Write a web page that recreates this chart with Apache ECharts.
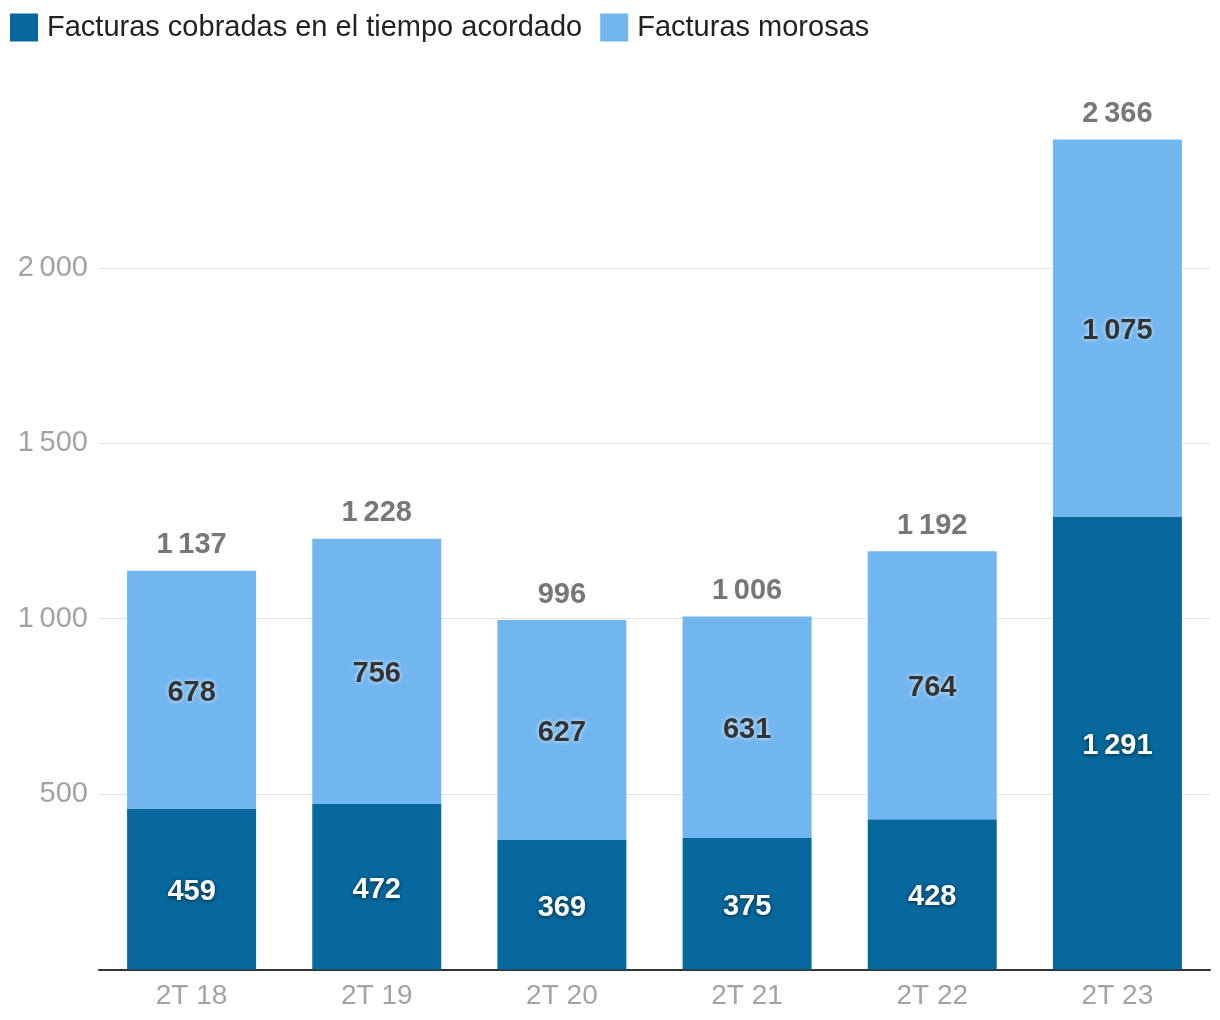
<!DOCTYPE html>
<html>
<head>
<meta charset="utf-8">
<script src="https://cdn.jsdelivr.net/npm/echarts@6/dist/echarts.min.js"></script>
<style>
html,body{margin:0;padding:0;background:#fff;}
#chart{width:1220px;height:1020px;}
</style>
</head>
<body>
<div id="chart"></div>
<script>
const categories = ['2T 18', '2T 19', '2T 20', '2T 21', '2T 22', '2T 23'];
const cobradas = [459, 472, 369, 375, 428, 1291];
const morosas = [678, 756, 627, 631, 764, 1075];
const seriesNames = ['Facturas cobradas en el tiempo acordado', 'Facturas morosas'];
const yTicks = [0, 500, 1000, 1500, 2000, 2500];

const totals = cobradas.map((v, i) => v + morosas[i]);
const fmt = v => String(v).replace(/\B(?=(\d{3})+(?!\d))/g, '\u2009');
const FONT = '"Liberation Sans", Arial, sans-serif';

const chart = echarts.init(document.getElementById('chart'), null, {renderer: 'canvas'});
chart.setOption({
  animation: false,
  backgroundColor: '#ffffff',
  legend: {
    left: 10, top: 13, padding: 0,
    itemWidth: 28, itemHeight: 28, itemGap: 18,
    icon: 'rect',
    data: seriesNames,
    textStyle: {fontFamily: FONT, fontSize: 29, color: '#222', padding: [0, 0, 0, 4]}
  },
  grid: {left: 99, right: 10, top: 92.5, bottom: 50.5, containLabel: false},
  xAxis: {
    type: 'category',
    data: categories,
    axisTick: {show: false},
    axisLine: {lineStyle: {color: '#333', width: 2}},
    axisLabel: {color: '#a3a3a3', fontFamily: FONT, fontSize: 28, margin: 13}
  },
  yAxis: {
    type: 'value',
    min: yTicks[0], max: yTicks[yTicks.length - 1], interval: 500,
    axisLine: {show: false},
    axisTick: {show: false},
    axisLabel: {
      color: '#a3a3a3', fontFamily: FONT, fontSize: 29, margin: 11,
      showMinLabel: false, showMaxLabel: false,
      formatter: v => fmt(v)
    },
    splitLine: {lineStyle: {color: '#e3e3e3', width: 1}, showMaxLine: false, showMinLine: false}
  },
  series: [
    {
      name: seriesNames[0], type: 'bar', stack: 'a', barWidth: 129,
      data: cobradas,
      itemStyle: {color: '#06689c'},
      label: {
        show: true, position: 'inside', offset: [0, 3], formatter: p => fmt(p.value),
        color: '#ffffff', fontFamily: FONT, fontWeight: 'bold', fontSize: 29,
        textShadowColor: 'rgba(0,0,0,0.6)', textShadowBlur: 4, textShadowOffsetY: 1
      }
    },
    {
      name: seriesNames[1], type: 'bar', stack: 'a', barWidth: 129,
      data: morosas,
      itemStyle: {color: '#72b6ef'},
      label: {
        show: true, position: 'inside', offset: [0, 3], formatter: p => fmt(p.value),
        color: '#333333', fontFamily: FONT, fontWeight: 'bold', fontSize: 29,
        textShadowColor: 'rgba(255,255,255,0.8)', textShadowBlur: 4
      }
    },
    {
      name: 'Total', type: 'bar', stack: 'a', barWidth: 129,
      data: totals.map(() => 0),
      itemStyle: {color: 'rgba(0,0,0,0)'},
      silent: true,
      label: {
        show: true, position: 'top', distance: 11,
        formatter: p => fmt(totals[p.dataIndex]),
        color: '#777777', fontFamily: FONT, fontWeight: 'bold', fontSize: 29
      }
    }
  ]
});
</script>
</body>
</html>
